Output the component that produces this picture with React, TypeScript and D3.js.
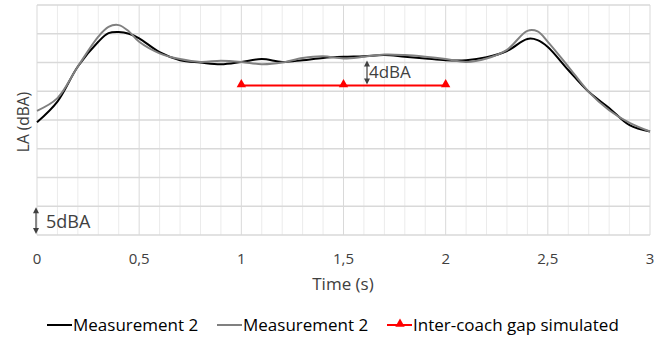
import React, { useEffect, useRef } from "react";
import * as d3 from "d3";

const times = [0, 0.1, 0.2, 0.3, 0.35, 0.4, 0.45, 0.5, 0.6, 0.7, 0.8, 0.9, 1.0, 1.1, 1.2, 1.3, 1.4, 1.5, 1.6, 1.7, 1.8, 1.9, 2.0, 2.1, 2.2, 2.3, 2.4, 2.45, 2.5, 2.6, 2.7, 2.8, 2.9, 3.0];
const measA = [19.6, 23.2, 29.3, 33.6, 35.1, 35.3, 35.0, 34.2, 31.8, 30.4, 30.0, 29.7, 30.1, 30.6, 30.1, 30.4, 30.8, 31.0, 31.1, 31.3, 31.0, 30.7, 30.4, 30.4, 30.9, 32.0, 34.1, 33.9, 32.7, 28.7, 24.9, 22.1, 19.1, 18.0];
const measB = [21.6, 23.8, 29.3, 34.5, 36.2, 36.5, 35.4, 33.6, 31.6, 30.6, 30.1, 30.3, 30.1, 29.7, 30.0, 30.8, 31.1, 30.7, 31.0, 31.4, 31.3, 31.0, 30.6, 30.1, 30.7, 32.2, 35.5, 35.4, 33.6, 29.3, 24.9, 21.7, 19.5, 18.0];
const gapTimes = [1, 1.5, 2];
const gapLevel = [26, 26, 26];
const xTicks = [0, 0.5, 1, 1.5, 2, 2.5, 3];
const legendNames = ["Measurement 2", "Measurement 2", "Inter-coach gap simulated"];

const W = 663;
const H = 339;

const App = () => {
  const ref = useRef(null);

  useEffect(() => {
    const svg = d3.select(ref.current);
    svg.selectAll("*").remove();

    const x = d3.scaleLinear().domain([0, 3]).range([37, 650]);
    const y = d3.scaleLinear().domain([0, 40]).range([235, 5]);
    const font = "'Open Sans', sans-serif";

    // grid
    const grid = svg.append("g");
    grid
      .selectAll("line.v")
      .data(d3.range(0, 31).map((i) => i / 10))
      .join("line")
      .attr("x1", (d) => x(d))
      .attr("x2", (d) => x(d))
      .attr("y1", y(0))
      .attr("y2", y(40))
      .attr("stroke", (d, i) => (i % 5 === 0 ? "#d9d9d9" : "#ebebeb"))
      .attr("stroke-width", 1);
    grid
      .selectAll("line.h")
      .data(d3.range(0, 41, 5))
      .join("line")
      .attr("x1", x(0))
      .attr("x2", x(3))
      .attr("y1", (d) => y(d))
      .attr("y2", (d) => y(d))
      .attr("stroke", "#d9d9d9")
      .attr("stroke-width", 1.5);

    // x tick labels
    svg
      .append("g")
      .selectAll("text")
      .data(xTicks)
      .join("text")
      .attr("x", (d) => x(d))
      .attr("y", 264)
      .attr("text-anchor", "middle")
      .attr("font-family", font)
      .attr("font-size", 15)
      .attr("fill", "#404040")
      .text((d) => String(d).replace(".", ","));

    svg
      .append("text")
      .attr("x", 343)
      .attr("y", 290)
      .attr("text-anchor", "middle")
      .attr("font-family", font)
      .attr("font-size", 17)
      .attr("fill", "#404040")
      .text("Time (s)");

    svg
      .append("text")
      .attr("transform", "translate(29,122) rotate(-90)")
      .attr("text-anchor", "middle")
      .attr("font-family", font)
      .attr("font-size", 15.5)
      .attr("fill", "#404040")
      .text("LA (dBA)");

    const line = d3
      .line()
      .x((d) => x(d[0]))
      .y((d) => y(d[1]))
      .curve(d3.curveCatmullRom.alpha(0.5));

    svg
      .append("path")
      .attr("d", line(times.map((t, i) => [t, measA[i]])))
      .attr("fill", "none")
      .attr("stroke", "#000")
      .attr("stroke-width", 2);
    svg
      .append("path")
      .attr("d", line(times.map((t, i) => [t, measB[i]])))
      .attr("fill", "none")
      .attr("stroke", "#808080")
      .attr("stroke-width", 2);

    // inter-coach gap
    const tri = d3.symbol().type(d3.symbolTriangle).size(38);
    svg
      .append("path")
      .attr("d", d3.line()(gapTimes.map((t, i) => [x(t), y(gapLevel[i])])))
      .attr("stroke", "#ff0000")
      .attr("stroke-width", 2)
      .attr("fill", "none");
    svg
      .append("g")
      .selectAll("path")
      .data(gapTimes)
      .join("path")
      .attr("d", tri())
      .attr("transform", (d, i) => `translate(${x(d)},${y(gapLevel[i]) - 1})`)
      .attr("fill", "#ff0000");

    // arrow annotations
    const arrow = (ax, y1, y2) => {
      const g = svg.append("g").attr("fill", "#404040").attr("stroke", "#404040");
      g.append("line")
        .attr("x1", ax)
        .attr("x2", ax)
        .attr("y1", y1 + 3)
        .attr("y2", y2 - 3)
        .attr("stroke-width", 1.2);
      g.append("path")
        .attr("d", `M${ax},${y1} l-3,6 l6,0 Z`)
        .attr("stroke", "none");
      g.append("path")
        .attr("d", `M${ax},${y2} l-3,-6 l6,0 Z`)
        .attr("stroke", "none");
    };
    arrow(36, y(5) + 1, y(0) - 1);
    arrow(367, y(30) - 2, y(gapLevel[0]) - 1);

    svg
      .append("text")
      .attr("x", 46)
      .attr("y", 228)
      .attr("font-family", font)
      .attr("font-size", 18)
      .attr("fill", "#404040")
      .text("5dBA");
    svg
      .append("text")
      .attr("x", 369)
      .attr("y", 78)
      .attr("font-family", font)
      .attr("font-size", 17)
      .attr("fill", "#404040")
      .text("4dBA");

    // legend
    const legendX = [47, 217, 387];
    const legendColors = ["#000", "#808080", "#ff0000"];
    const lg = svg.append("g");
    legendNames.forEach((name, i) => {
      lg.append("line")
        .attr("x1", legendX[i])
        .attr("x2", legendX[i] + 25)
        .attr("y1", 325)
        .attr("y2", 325)
        .attr("stroke", legendColors[i])
        .attr("stroke-width", 2);
      if (i === 2) {
        lg.append("path")
          .attr("d", tri())
          .attr("transform", `translate(${legendX[i] + 13},324)`)
          .attr("fill", "#ff0000");
      }
      lg.append("text")
        .attr("x", legendX[i] + 26)
        .attr("y", 331)
        .attr("font-family", font)
        .attr("font-size", 17)
        .attr("fill", "#000")
        .text(name);
    });
  }, []);

  return (
    <svg
      ref={ref}
      width={W}
      height={H}
      style={{ position: "absolute", left: 0, top: 0, background: "#fff" }}
    />
  );
};

export default App;
